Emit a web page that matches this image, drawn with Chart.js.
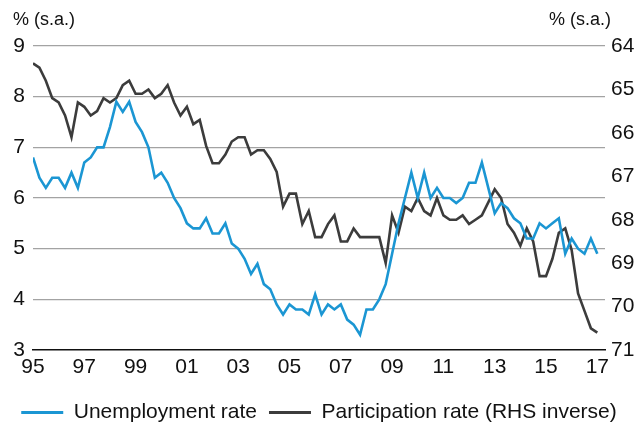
<!DOCTYPE html>
<html><head><meta charset="utf-8">
<script src="https://cdn.jsdelivr.net/npm/chart.js@4/dist/chart.umd.min.js"></script>
<style>html,body{margin:0;padding:0;background:#fff;}</style>
</head><body>
<canvas id="c" width="638" height="428"></canvas>
<script>
// Quarterly observations, 1995 Q1 .. 2017 Q1
const firstYear = 1995;
const quarterCount = 89;
const quarters = [];
for (let i = 0; i < quarterCount; i++) quarters.push(firstYear + i / 4);

const unemployment = [
  6.8, 6.4, 6.2, 6.4, 6.4, 6.2, 6.5, 6.2, 6.7, 6.8, 7.0, 7.0, 7.4, 7.9, 7.7, 7.9,
  7.5, 7.3, 7.0, 6.4, 6.5, 6.3, 6.0, 5.8, 5.5, 5.4, 5.4, 5.6, 5.3, 5.3,
  5.5, 5.1, 5.0, 4.8, 4.5, 4.7, 4.3, 4.2, 3.9, 3.7, 3.9, 3.8, 3.8, 3.7, 4.1, 3.7,
  3.9, 3.8, 3.9, 3.6, 3.5, 3.3, 3.8, 3.8, 4.0, 4.3, 4.9, 5.5, 6.0, 6.5,
  6.0, 6.5, 6.0, 6.2, 6.0, 6.0, 5.9, 6.0, 6.3, 6.3, 6.7, 6.2, 5.7, 5.9,
  5.8, 5.6, 5.5, 5.2, 5.2, 5.5, 5.4, 5.5, 5.6, 4.9, 5.2, 5.0, 4.9, 5.2, 4.9
];
const participation = [
  64.4, 64.5, 64.8, 65.2, 65.3, 65.6, 66.1, 65.3, 65.4, 65.6, 65.5, 65.2, 65.3, 65.2, 64.9, 64.8,
  65.1, 65.1, 65.0, 65.2, 65.1, 64.9, 65.3, 65.6, 65.4, 65.8, 65.7, 66.3, 66.7, 66.7,
  66.5, 66.2, 66.1, 66.1, 66.5, 66.4, 66.4, 66.6, 66.9, 67.7, 67.4, 67.4, 68.1, 67.8, 68.4, 68.4,
  68.1, 67.9, 68.5, 68.5, 68.2, 68.4, 68.4, 68.4, 68.4, 69.0, 67.9, 68.3, 67.7, 67.8,
  67.5, 67.8, 67.9, 67.5, 67.9, 68.0, 68.0, 67.9, 68.1, 68.0, 67.9, 67.6, 67.3, 67.5,
  68.1, 68.3, 68.6, 68.2, 68.5, 69.3, 69.3, 68.9, 68.3, 68.2, 68.7, 69.7, 70.1, 70.5, 70.6
];

const yearTicks = [1995, 1997, 1999, 2001, 2003, 2005, 2007, 2009, 2011, 2013, 2015, 2017];
const yearTickLabels = ['95', '97', '99', '01', '03', '05', '07', '09', '11', '13', '15', '17'];
const seriesNames = ['Unemployment rate', 'Participation rate (RHS inverse)'];
const unitLabel = '% (s.a.)';

const BLUE = '#1b96d3';
const DARK = '#3c3c3c';
const FONT = '"Liberation Sans", Arial, sans-serif';
const PAD_BOTTOM = -5;

const unitPlugin = {
  id: 'units',
  afterDraw(chart) {
    const { ctx, chartArea: a } = chart;
    ctx.save();
    ctx.font = '18px ' + FONT;
    ctx.fillStyle = '#111';
    ctx.textBaseline = 'alphabetic';
    ctx.textAlign = 'left';
    ctx.fillText(unitLabel, a.left - 20, a.top - 21);
    ctx.textAlign = 'right';
    ctx.fillText(unitLabel, a.right + 6, a.top - 21);
    ctx.restore();
  }
};

new Chart(document.getElementById('c'), {
  type: 'line',
  data: {
    datasets: [
      {
        label: seriesNames[0],
        data: quarters.map((q, i) => ({ x: q, y: unemployment[i] })),
        borderColor: BLUE, backgroundColor: BLUE,
        borderWidth: 2.6, pointRadius: 0, tension: 0, yAxisID: 'y'
      },
      {
        label: seriesNames[1],
        data: quarters.map((q, i) => ({ x: q, y: participation[i] })),
        borderColor: DARK, backgroundColor: DARK,
        borderWidth: 2.6, pointRadius: 0, tension: 0, yAxisID: 'y1'
      }
    ]
  },
  options: {
    responsive: false,
    animation: false,
    devicePixelRatio: 1,
    layout: { padding: { top: 46, left: 0, right: 0, bottom: PAD_BOTTOM } },
    plugins: {
      tooltip: { enabled: false },
      legend: {
        position: 'bottom',
        labels: {
          font: { family: FONT, size: 21 },
          color: '#111',
          boxWidth: 42,
          boxHeight: 3,
          padding: 12,
          generateLabels: (chart) =>
            Chart.defaults.plugins.legend.labels.generateLabels(chart).map(l => ({ ...l, lineWidth: 0 }))
        }
      }
    },
    scales: {
      x: {
        type: 'linear',
        min: 1995,
        max: 2017.3,
        afterBuildTicks: (s) => { s.ticks = yearTicks.map(v => ({ value: v })); },
        afterFit: (s) => {
          const lg = s.chart.legend ? s.chart.legend.height : 0;
          s.height = Math.max(30, 428 - 350 - lg - PAD_BOTTOM);
        },
        ticks: {
          autoSkip: false,
          maxRotation: 0,
          padding: 5,
          color: '#111',
          font: { family: FONT, size: 21 },
          callback: (v) => { const k = yearTicks.indexOf(v); return k >= 0 ? yearTickLabels[k] : ''; }
        },
        grid: { display: true, color: 'rgba(0,0,0,0)', drawTicks: false },
        border: { display: true, color: '#111', width: 1.5 }
      },
      y: {
        position: 'left',
        min: 3, max: 9,
        afterFit: (s) => { s.width = 33; },
        ticks: { stepSize: 1, padding: 8, color: '#111', font: { family: FONT, size: 21 } },
        grid: {
          drawTicks: false,
          lineWidth: 1.3,
          color: (c) => (c.tick && c.tick.value === 3) ? 'rgba(0,0,0,0)' : '#a3a3a3'
        },
        border: { display: false }
      },
      y1: {
        position: 'right',
        min: 64, max: 71,
        reverse: true,
        afterFit: (s) => { s.width = 33; },
        ticks: { stepSize: 1, padding: 6, color: '#111', font: { family: FONT, size: 21 } },
        grid: { drawOnChartArea: false, drawTicks: false },
        border: { display: false }
      }
    }
  },
  plugins: [unitPlugin]
});
</script>
</body></html>
